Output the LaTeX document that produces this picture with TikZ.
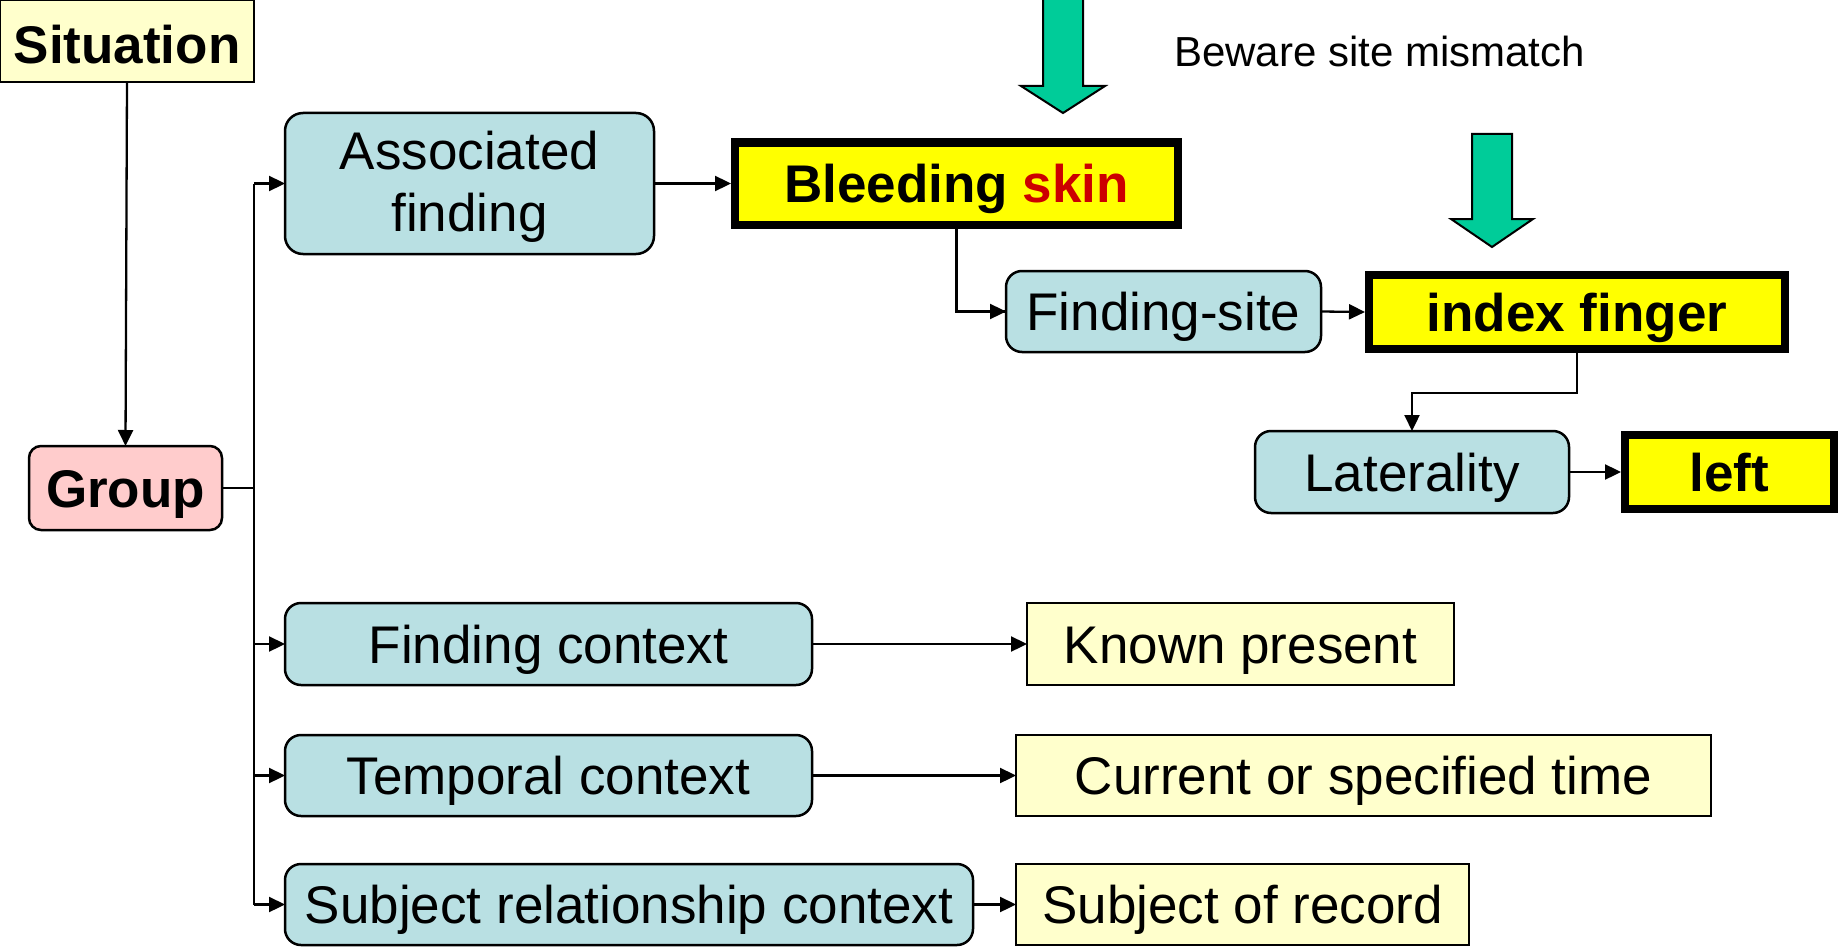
\documentclass[tikz,border=0pt]{standalone}
\usepackage{fontspec}
\setmainfont{Liberation Sans}
\usetikzlibrary{arrows.meta}
\definecolor{sitfill}{HTML}{FFFFCC}
\definecolor{grpfill}{HTML}{FFCCCC}
\definecolor{attrfill}{RGB}{185,224,227}
\definecolor{hotfill}{HTML}{FFFF00}
\definecolor{skinred}{HTML}{CC0000}
\definecolor{arrgreen}{HTML}{00CC99}
\begin{document}
\begin{tikzpicture}[x=1pt,y=-1pt,
  every node/.style={font=\fontsize{53}{62}\selectfont, inner sep=0pt, outer sep=0pt, align=center},
  one/.style={text height=38pt, text depth=0pt},
  attr/.style={draw, line width=2.5pt, fill=attrfill, rounded corners=16pt, one},
  val/.style={draw, line width=2.5pt, fill=sitfill, one},
  hot/.style={draw, line width=8pt, fill=hotfill, outer sep=4pt, one, font=\fontsize{53}{62}\selectfont\bfseries},
  conn/.style={line width=2.3pt, -{Triangle[length=16pt,width=15pt]}},
  plain/.style={line width=2.3pt},
  bigarrow/.style={draw, line width=2pt, fill=arrgreen, line join=miter}
]
\useasboundingbox (0,0) rectangle (1841,947);
\fill[white] (0,0) rectangle (1841,947);

% nodes
\node[val, text height=46pt, minimum width=254pt, minimum height=82pt, font=\fontsize{53}{62}\selectfont\bfseries] (sit) at (127,41) {Situation};
\node[attr, fill=grpfill, rounded corners=12pt, minimum width=193pt, minimum height=84pt, font=\fontsize{53}{62}\selectfont\bfseries] (grp) at (125.5,488) {Group};
\node[draw, line width=2.5pt, fill=attrfill, rounded corners=18pt, minimum width=369pt, minimum height=141pt] (assoc) at (469.5,183.5) {\raisebox{-5pt}[\height][\depth]{\begin{tabular}{@{}c@{}}Associated\\finding\end{tabular}}};
\node[hot, minimum width=443pt, minimum height=82pt] (bleed) at (956.5,183.5) {Bleeding {\color{skinred}skin}};
\node[attr, minimum width=315pt, minimum height=81pt] (site) at (1163.5,311.5) {Finding-site};
\node[hot, minimum width=416pt, minimum height=74pt] (finger) at (1577,312) {index finger};
\node[attr, minimum width=314pt, minimum height=82pt] (lat) at (1412,472) {Laterality};
\node[hot, minimum width=209pt, minimum height=74pt] (left) at (1729.5,472) {left};
\node[attr, minimum width=527pt, minimum height=82pt] (fctx) at (548.5,644) {Finding context};
\node[val, minimum width=427pt, minimum height=82pt] (known) at (1240.5,644) {Known present};
\node[attr, minimum width=527pt, minimum height=81pt] (tctx) at (548.5,775.5) {Temporal context};
\node[val, minimum width=695pt, minimum height=81pt] (cur) at (1363.5,775.5) {Current or specified time};
\node[attr, minimum width=688pt, minimum height=81pt] (sctx) at (629,904.5) {Subject relationship context};
\node[val, minimum width=453pt, minimum height=81pt] (subj) at (1242.5,904.5) {Subject of record};

\node[anchor=base west, font=\fontsize{42}{48}\selectfont] (beware) at (1174,67) {Beware site mismatch};

% connectors
\coordinate (bustop) at (254,183.5);
\coordinate (busbot) at (254,904.5);
\coordinate (elbow) at (1412,393);
\draw[conn] (sit.south) -- (grp.north);
\draw[plain] (bustop) -- (busbot);
\draw[plain] (grp.east) -- (grp.east -| bustop);
\draw[conn] (bustop) -- (assoc.west);
\draw[conn] (fctx.west -| bustop) -- (fctx.west);
\draw[conn] (tctx.west -| bustop) -- (tctx.west);
\draw[conn] (busbot) -- (sctx.west);
\draw[conn] (assoc.east) -- (bleed.west);
\draw[plain] (bleed.south) |- (site.west);
\draw[conn] (bleed.south |- site.west) -- (site.west);
\draw[conn] (site.east) -- (finger.west);
\draw[conn] (finger.south) |- (elbow) -- (lat.north);
\draw[conn] (lat.east) -- (left.west);
\draw[conn] (fctx.east) -- (known.west);
\draw[conn] (tctx.east) -- (cur.west);
\draw[conn] (sctx.east) -- (subj.west);

% green block arrows
\draw[bigarrow] (1043,-5) -- (1083,-5) -- (1083,86) -- (1105,86) -- (1063,113) -- (1021,86) -- (1043,86) -- cycle;
\draw[bigarrow] (1472,134) -- (1512,134) -- (1512,219) -- (1533,219) -- (1492,247) -- (1451,219) -- (1472,219) -- cycle;
\end{tikzpicture}
\end{document}
